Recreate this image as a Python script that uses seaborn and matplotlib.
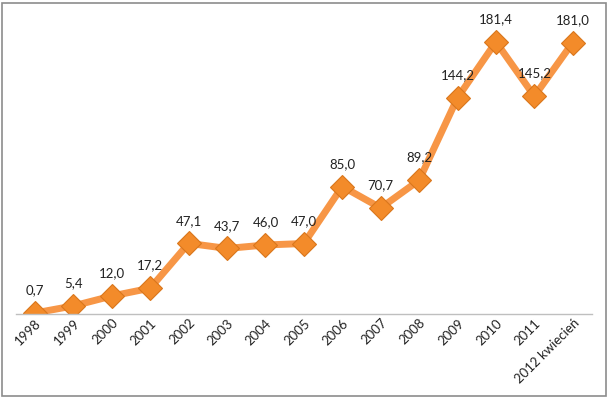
import matplotlib
matplotlib.use("Agg")
import matplotlib.pyplot as plt
from matplotlib.patches import Rectangle
import seaborn as sns

# chart values
years = ["1998", "1999", "2000", "2001", "2002", "2003", "2004", "2005",
         "2006", "2007", "2008", "2009", "2010", "2011", "2012 kwiecień"]
values = [0.7, 5.4, 12.0, 17.2, 47.1, 43.7, 46.0, 47.0,
          85.0, 70.7, 89.2, 144.2, 181.4, 145.2, 181.0]

sns.set_theme(style="white")
plt.rcParams['font.family'] = ['Lato', 'DejaVu Sans']

fig = plt.figure(figsize=(6.09, 3.98), dpi=100)
ax = fig.add_axes([15.8 / 609, 1 - 314 / 398, (592 - 15.8) / 609, 300 / 398])

sns.lineplot(x=years, y=values, ax=ax, sort=False, color="#F79646",
             linewidth=5, marker="D", markersize=12,
             markerfacecolor="#F38B2A", markeredgecolor="#D9761C",
             markeredgewidth=0.8)

for i, v in enumerate(values):
    ax.annotate(("%.1f" % v).replace(".", ","), (i, v), xytext=(0, 12),
                textcoords="offset points", ha="center", va="bottom",
                fontsize=9.5, color="#222222")

ax.set_xlim(-0.5, len(years) - 0.5)
ax.set_ylim(0, 200)
ax.set_yticks([])
ax.set_xlabel("")
ax.set_ylabel("")
for side in ["top", "left", "right"]:
    ax.spines[side].set_visible(False)
ax.spines["bottom"].set_color("#BFBFBF")
ax.spines["bottom"].set_linewidth(1.0)
ax.tick_params(axis="x", length=0, pad=2)
plt.setp(ax.get_xticklabels(), rotation=45, ha="right",
         rotation_mode="anchor", fontsize=9.5, color="#222222")

# outer chart border
fig.patches.append(Rectangle((1.5 / 609, 2.5 / 398), 604 / 609, 393 / 398,
                             transform=fig.transFigure, fill=False,
                             edgecolor="#8C8C8C", linewidth=1.2))

fig.savefig("out.png", dpi=100)
